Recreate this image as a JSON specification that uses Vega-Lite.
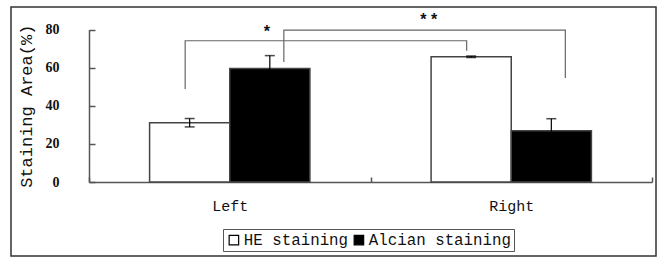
{
  "$schema": "https://vega.github.io/schema/vega-lite/v6.json",
  "width": 645,
  "height": 249,
  "autosize": {"type": "none"},
  "padding": {"left": 11, "top": 7, "right": 3, "bottom": 3},
  "background": "white",
  "config": {"view": {"stroke": "#333", "strokeWidth": 1.5}, "font": "Liberation Mono"},
  "datasets": {
    "bars": [
      {"side": "Left", "stain": "HE staining", "mean": 31.1, "lo": 28.9, "hi": 33.3},
      {"side": "Left", "stain": "Alcian staining", "mean": 59.6, "lo": 52.9, "hi": 66.3},
      {"side": "Right", "stain": "HE staining", "mean": 65.7, "lo": 65.3, "hi": 66.1},
      {"side": "Right", "stain": "Alcian staining", "mean": 26.9, "lo": 20.6, "hi": 33.2}
    ],
    "brackets": [
      {"bracket": "HE", "ord": 1, "side": "Left", "stain": "HE staining", "y": 48.8},
      {"bracket": "HE", "ord": 2, "side": "Left", "stain": "HE staining", "y": 74.1},
      {"bracket": "HE", "ord": 3, "side": "Right", "stain": "HE staining", "y": 74.1},
      {"bracket": "HE", "ord": 4, "side": "Right", "stain": "HE staining", "y": 68.9},
      {"bracket": "Alcian", "ord": 1, "side": "Left", "stain": "Alcian staining", "y": 63.0},
      {"bracket": "Alcian", "ord": 2, "side": "Left", "stain": "Alcian staining", "y": 79.7},
      {"bracket": "Alcian", "ord": 3, "side": "Right", "stain": "Alcian staining", "y": 79.7},
      {"bracket": "Alcian", "ord": 4, "side": "Right", "stain": "Alcian staining", "y": 54.6}
    ],
    "star1": [{"label": "*", "side": "Left", "stain": "Alcian staining", "y": 78.5}],
    "star2": [{"label": "* *", "side": "Right", "stain": "HE staining", "y": 85.0}]
  },
  "resolve": {"scale": {"xOffset": "independent"}},
  "encoding": {
    "x": {
      "field": "side", "type": "nominal", "title": null,
      "scale": {"domain": ["Left", "Right"], "range": [78, 641], "paddingInner": 0, "paddingOuter": 0},
      "axis": {
        "orient": "bottom", "offset": -74, "tickBand": "extent", "tickSize": -5, "labelAngle": 0,
        "labelFont": "Liberation Mono", "labelFontSize": 15, "labelColor": "#111", "labelPadding": 21,
        "domainColor": "#555", "tickColor": "#555", "domainWidth": 1.5, "tickWidth": 1.5
      }
    }
  },
  "layer": [
    {
      "data": {"name": "bars"},
      "mark": {"type": "bar", "stroke": "#444", "strokeWidth": 1.5},
      "encoding": {
        "xOffset": {"field": "stain", "type": "nominal", "scale": {"domain": ["HE staining", "Alcian staining"], "paddingInner": 0, "paddingOuter": 0.756}},
        "y": {
          "field": "mean", "type": "quantitative", "title": "Staining Area(%)",
          "scale": {"domain": [0, 80], "range": [175, 22.5], "nice": false, "zero": true},
          "axis": {
            "offset": -78, "values": [0, 20, 40, 60, 80], "tickSize": -6, "labelPadding": 36,
            "labelFont": "Liberation Serif", "labelFontSize": 14, "labelFontWeight": "bold", "labelColor": "#111",
            "domainColor": "#555", "tickColor": "#555", "domainWidth": 1.5, "tickWidth": 1.5, "grid": false,
            "titleFont": "Liberation Mono", "titleFontSize": 17, "titleFontWeight": "normal", "titleColor": "#111", "titlePadding": 10
          }
        },
        "fill": {
          "field": "stain", "type": "nominal",
          "scale": {"domain": ["HE staining", "Alcian staining"], "range": ["#ffffff", "#000000"]},
          "legend": {
            "orient": "none", "legendX": 212, "legendY": 222, "direction": "horizontal", "title": null,
            "symbolType": "square", "symbolSize": 90, "symbolStrokeColor": "#000", "symbolStrokeWidth": 1.2,
            "labelFont": "Liberation Mono", "labelFontSize": 15.8, "labelColor": "#111", "labelOffset": 2,
            "columnPadding": 2, "padding": 3, "strokeColor": "#555"
          }
        }
      }
    },
    {
      "data": {"name": "bars"},
      "mark": {"type": "rule", "color": "#000", "strokeWidth": 1.2},
      "encoding": {
        "xOffset": {"field": "stain", "type": "nominal", "scale": {"domain": ["HE staining", "Alcian staining"], "paddingInner": 0, "paddingOuter": 0.756}},
        "y": {"field": "lo", "type": "quantitative", "title": "Staining Area(%)"},
        "y2": {"field": "hi"}
      }
    },
    {
      "data": {"name": "bars"},
      "mark": {"type": "tick", "color": "#000", "size": 10, "thickness": 1.5, "orient": "horizontal"},
      "encoding": {
        "xOffset": {"field": "stain", "type": "nominal", "scale": {"domain": ["HE staining", "Alcian staining"], "paddingInner": 0, "paddingOuter": 0.756}},
        "y": {"field": "hi", "type": "quantitative", "title": "Staining Area(%)"}
      }
    },
    {
      "data": {"name": "bars"},
      "mark": {"type": "tick", "color": "#000", "size": 10, "thickness": 1.5, "orient": "horizontal"},
      "encoding": {
        "xOffset": {"field": "stain", "type": "nominal", "scale": {"domain": ["HE staining", "Alcian staining"], "paddingInner": 0, "paddingOuter": 0.756}},
        "y": {"field": "lo", "type": "quantitative", "title": "Staining Area(%)"}
      }
    },
    {
      "data": {"name": "brackets"},
      "mark": {"type": "line", "color": "#666", "strokeWidth": 1.2, "interpolate": "linear"},
      "encoding": {
        "xOffset": {"field": "stain", "type": "nominal", "scale": {"domain": ["HE staining", "Alcian staining"], "padding": 0.9264, "align": 0.526}},
        "y": {"field": "y", "type": "quantitative", "title": "Staining Area(%)"},
        "detail": {"field": "bracket"},
        "order": {"field": "ord", "type": "quantitative"}
      }
    },
    {
      "data": {"name": "star1"},
      "mark": {"type": "text", "font": "Liberation Sans", "fontSize": 16, "fontWeight": "bold", "baseline": "middle", "dx": -17, "color": "#111"},
      "encoding": {
        "xOffset": {"field": "stain", "type": "nominal", "scale": {"domain": ["HE staining", "Alcian staining"], "padding": 0.9264, "align": 0.526}},
        "y": {"field": "y", "type": "quantitative", "title": "Staining Area(%)"},
        "text": {"field": "label"}
      }
    },
    {
      "data": {"name": "star2"},
      "mark": {"type": "text", "font": "Liberation Sans", "fontSize": 16, "fontWeight": "bold", "baseline": "middle", "dx": -38, "color": "#111"},
      "encoding": {
        "xOffset": {"field": "stain", "type": "nominal", "scale": {"domain": ["HE staining", "Alcian staining"], "padding": 0.9264, "align": 0.526}},
        "y": {"field": "y", "type": "quantitative", "title": "Staining Area(%)"},
        "text": {"field": "label"}
      }
    }
  ]
}
